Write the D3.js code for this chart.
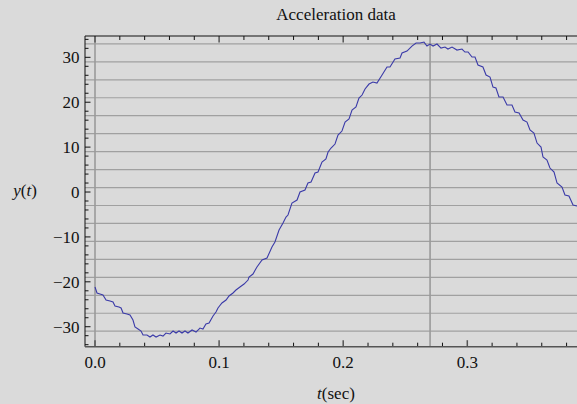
<!DOCTYPE html>
<html>
<head>
<meta charset="utf-8">
<script src="https://cdn.jsdelivr.net/npm/d3@7"></script>
<style>
  body { margin: 0; background: #dadada; }
  svg { display: block; font-family: "Liberation Serif", "Times New Roman", serif; }
</style>
</head>
<body>
<svg id="chart"></svg>
<script>
// acceleration samples
const tVals = [0, 0.0016, 0.0040, 0.0064, 0.0089, 0.0121, 0.0145, 0.0161, 0.0193, 0.0210,
  0.0226, 0.0258, 0.0282, 0.0306, 0.0322, 0.0347, 0.0371, 0.0387, 0.0419, 0.0443,
  0.0467, 0.0492, 0.0524, 0.0548, 0.0572, 0.0604, 0.0629, 0.0653, 0.0677, 0.0701,
  0.0725, 0.0749, 0.0782, 0.0814, 0.0846, 0.0870, 0.0894, 0.0919, 0.0951, 0.0975,
  0.0991, 0.1023, 0.1056, 0.1080, 0.1112, 0.1136, 0.1168, 0.1201, 0.1233, 0.1241,
  0.1273, 0.1305, 0.1346, 0.1386, 0.1426, 0.1450, 0.1483, 0.1515, 0.1539, 0.1555,
  0.1587, 0.1628, 0.1652, 0.1692, 0.1716, 0.1741, 0.1773, 0.1797, 0.1829, 0.1861,
  0.1878, 0.1902, 0.1934, 0.1958, 0.1990, 0.2015, 0.2047, 0.2071, 0.2103, 0.2127,
  0.2152, 0.2176, 0.2208, 0.2240, 0.2272, 0.2313, 0.2353, 0.2377, 0.2417, 0.2458,
  0.2474, 0.2514, 0.2554, 0.2587, 0.2619, 0.2651, 0.2675, 0.2699, 0.2724, 0.2756,
  0.2788, 0.2820, 0.2844, 0.2877, 0.2917, 0.2957, 0.2981, 0.3006, 0.3038, 0.3062,
  0.3086, 0.3126, 0.3151, 0.3183, 0.3207, 0.3231, 0.3255, 0.3288, 0.3320, 0.3360,
  0.3384, 0.3417, 0.3449, 0.3481, 0.3505, 0.3537, 0.3562, 0.3594, 0.3610, 0.3642,
  0.3666, 0.3699, 0.3723, 0.3763, 0.3787, 0.3819, 0.3852, 0.3884];

const yVals = [-21.16, -22.49, -22.72, -22.94, -24.05, -24.27, -24.50, -25.39, -25.61, -25.83,
  -26.95, -27.17, -27.39, -28.51, -30.06, -30.51, -30.96, -31.85, -31.85, -32.29,
  -31.85, -32.29, -31.85, -32.07, -31.40, -31.62, -30.96, -31.40, -30.96, -31.40,
  -30.96, -31.40, -30.73, -31.18, -30.29, -30.51, -29.40, -29.17, -27.61, -26.72,
  -25.83, -24.72, -24.05, -23.16, -22.49, -21.82, -21.16, -20.49, -19.60, -18.93,
  -18.26, -16.70, -15.14, -14.70, -12.25, -11.14, -8.46, -6.90, -5.57, -5.12,
  -2.45, -1.78, 0.00, 0.45, 2.00, 2.23, 4.23, 4.45, 6.68, 7.35,
  8.91, 9.80, 10.69, 12.69, 13.58, 15.59, 16.26, 18.26, 18.93, 20.93,
  21.60, 22.94, 24.05, 24.50, 24.27, 26.06, 27.84, 27.84, 29.62, 29.84,
  30.96, 31.40, 32.51, 33.18, 33.18, 33.40, 32.51, 32.96, 32.51, 32.96,
  32.07, 32.29, 31.85, 32.29, 31.62, 31.85, 31.18, 31.18, 30.06, 30.06,
  28.28, 27.84, 26.06, 25.61, 23.38, 23.16, 21.16, 21.16, 19.37, 19.37,
  17.82, 17.59, 16.03, 15.59, 13.81, 13.14, 10.91, 10.02, 7.79, 7.13,
  5.34, 4.45, 2.00, 1.11, -0.67, -0.89, -2.90, -3.12];

const xTicks = [0, 0.1, 0.2, 0.3];
const xTickLabels = ["0.0", "0.1", "0.2", "0.3"];
const yTicks = [-30, -20, -10, 0, 10, 20, 30];
const xGrid = [0, 0.27];
const yGrid = [33, 29, 25, 21, 17, 13, 9, 5, 1, -3, -7, -11, -15, -19, -23, -27, -31];

const width = 577, height = 404;
const plotLeft = 85, plotTop = 36, plotBottom = 346.7;
const fontSize = '17px';

const svg = d3.select('#chart')
    .attr('width', width)
    .attr('height', height);

svg.append('rect').attr('width', width).attr('height', height).attr('fill', '#dadada');

const x = d3.scaleLinear().domain([-0.00806, 0.4]).range([plotLeft, plotLeft + 0.40806 * 1241]);
const y = d3.scaleLinear().domain([-34.45, 34.75]).range([plotBottom, plotTop]);

// grid
svg.append('g').selectAll('line')
    .data(yGrid)
    .join('line')
    .attr('x1', plotLeft).attr('x2', width)
    .attr('y1', d => y(d)).attr('y2', d => y(d))
    .attr('stroke', '#a0a0a0').attr('stroke-width', 1.2);

svg.append('g').selectAll('line')
    .data(xGrid)
    .join('line')
    .attr('x1', d => x(d)).attr('x2', d => x(d))
    .attr('y1', plotTop).attr('y2', plotBottom)
    .attr('stroke', '#9a9a9a').attr('stroke-width', 1.6);

// minor ticks
const xMinor = d3.range(0.02, 0.4, 0.02).filter(v => xTicks.every(m => Math.abs(m - v) > 1e-6));
const yMinor = d3.range(-34, 35, 2).filter(v => yTicks.indexOf(v) < 0);

const ticks = svg.append('g').attr('stroke', '#111').attr('stroke-width', 1);
xMinor.forEach(v => {
  ticks.append('line').attr('x1', x(v)).attr('x2', x(v)).attr('y1', plotTop).attr('y2', plotTop + 4);
  ticks.append('line').attr('x1', x(v)).attr('x2', x(v)).attr('y1', plotBottom).attr('y2', plotBottom - 4);
});
xTicks.forEach(v => {
  ticks.append('line').attr('x1', x(v)).attr('x2', x(v)).attr('y1', plotTop).attr('y2', plotTop + 6.5)
      .attr('stroke', '#555').attr('stroke-width', 1.5);
  ticks.append('line').attr('x1', x(v)).attr('x2', x(v)).attr('y1', plotBottom).attr('y2', plotBottom - 6.5)
      .attr('stroke', '#555').attr('stroke-width', 1.5);
});
yMinor.forEach(v => {
  ticks.append('line').attr('x1', plotLeft).attr('x2', plotLeft + 3.5).attr('y1', y(v)).attr('y2', y(v));
});
yTicks.forEach(v => {
  ticks.append('line').attr('x1', plotLeft).attr('x2', plotLeft + 5.5).attr('y1', y(v)).attr('y2', y(v));
});

// frame
svg.append('line').attr('x1', plotLeft).attr('x2', width).attr('y1', plotTop).attr('y2', plotTop)
    .attr('stroke', '#111').attr('stroke-width', 1);
svg.append('line').attr('x1', plotLeft).attr('x2', plotLeft).attr('y1', plotTop).attr('y2', plotBottom)
    .attr('stroke', '#111').attr('stroke-width', 1);
svg.append('line').attr('x1', plotLeft).attr('x2', width).attr('y1', plotBottom).attr('y2', plotBottom)
    .attr('stroke', '#555').attr('stroke-width', 1.6);

// data line
const data = tVals.map((t, i) => ({t: t, v: yVals[i]}));
svg.append('path')
    .datum(data)
    .attr('fill', 'none')
    .attr('stroke', '#3a3aa8')
    .attr('stroke-width', 1.1)
    .attr('d', d3.line().x(d => x(d.t)).y(d => y(d.v)));

// tick labels
svg.append('g').selectAll('text')
    .data(xTicks)
    .join('text')
    .attr('x', d => x(d)).attr('y', 368)
    .attr('text-anchor', 'middle')
    .style('font-size', fontSize).style('fill', '#111')
    .text((d, i) => xTickLabels[i]);

svg.append('g').selectAll('text')
    .data(yTicks)
    .join('text')
    .attr('x', 79.5).attr('y', d => y(d) + 5.8)
    .attr('text-anchor', 'end')
    .style('font-size', fontSize).style('fill', '#111')
    .text(d => d < 0 ? '\u2212' + Math.abs(d) : String(d));

// titles
svg.append('text').attr('x', 336).attr('y', 20).attr('text-anchor', 'middle')
    .style('font-size', fontSize).style('fill', '#111').text('Acceleration data');

const yl = svg.append('text').attr('x', 25).attr('y', 196).attr('text-anchor', 'middle')
    .style('font-size', fontSize).style('fill', '#111');
yl.append('tspan').style('font-style', 'italic').text('y');
yl.append('tspan').text('(');
yl.append('tspan').style('font-style', 'italic').text('t');
yl.append('tspan').text(')');

const xl = svg.append('text').attr('x', 336).attr('y', 399).attr('text-anchor', 'middle')
    .style('font-size', fontSize).style('fill', '#111');
xl.append('tspan').style('font-style', 'italic').text('t');
xl.append('tspan').text('(sec)');
</script>
</body>
</html>
